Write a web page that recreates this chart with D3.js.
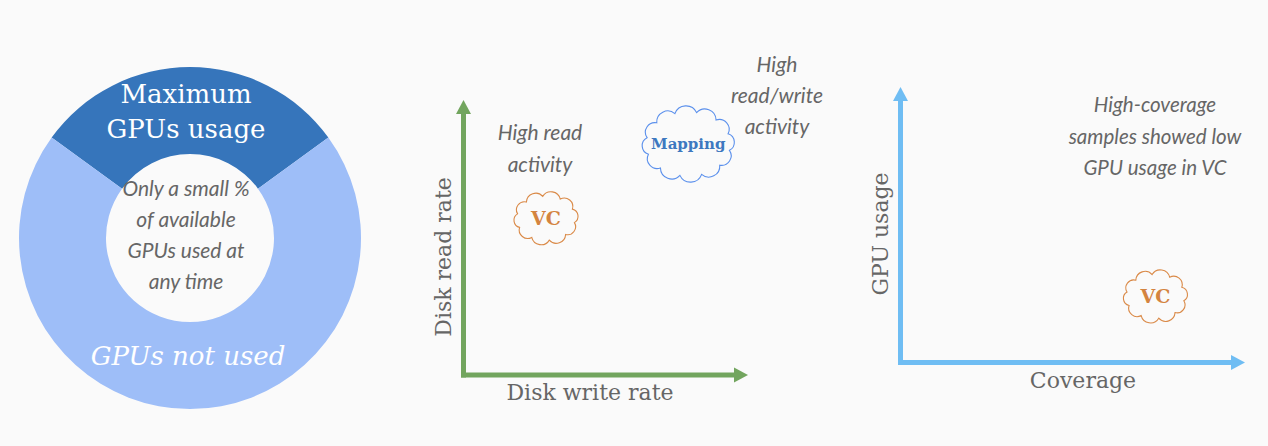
<!DOCTYPE html>
<html>
<head>
<meta charset="utf-8">
<script src="https://cdn.jsdelivr.net/npm/d3@7"></script>
<style>
  html, body { margin: 0; padding: 0; background: #fafafa; }
  svg { display: block; }
  .serif { font-family: "DejaVu Serif", "Liberation Serif", serif; }
  .hand { font-family: Lato, "Open Sans", sans-serif; font-style: italic; fill: #666; }
</style>
</head>
<body>
<svg id="chart" width="1268" height="446"></svg>
<script>
// ---- Data ----
const donutLabels = ["Maximum GPUs usage", "GPUs not used"];
const donutValues = [30, 70];
const donutNote = ["Only a small %", "of available", "GPUs used at", "any time"];

const diskCategories = ["VC", "Mapping"];
const diskWriteRate = [2.9, 7.9];
const diskReadRate = [5.7, 8.4];
const diskNoteRead = ["High read", "activity"];
const diskNoteBoth = ["High", "read/write", "activity"];

const gpuCategories = ["VC"];
const coverageValues = [7.4];
const gpuUsageValues = [2.4];
const gpuNote = ["High-coverage", "samples showed low", "GPU usage in VC"];

// ---- Setup ----
const svg = d3.select("#chart");

// ---- Donut ----
const donutColors = d3.scaleOrdinal().domain(donutLabels).range(["#3675bb", "#9ebef8"]);
const pie = d3.pie().sort(null).startAngle(-Math.PI * 0.3).endAngle(Math.PI * 1.7);
const arc = d3.arc().innerRadius(84).outerRadius(171);
const donut = svg.append("g").attr("transform", "translate(190,238)");
donut.selectAll("path").data(pie(donutValues))
  .join("path")
  .attr("d", arc)
  .attr("fill", (d, i) => donutColors(donutLabels[i]));

// slice labels
const maxLines = ["Maximum", "GPUs usage"];
svg.append("text").attr("class", "serif")
  .attr("text-anchor", "middle")
  .attr("fill", "#fff").attr("font-size", 26)
  .selectAll("tspan").data(maxLines).join("tspan")
  .attr("x", 186).attr("y", (d, i) => 103 + i * 35).text(d => d);

svg.append("text").attr("class", "serif")
  .attr("x", 188).attr("y", 365).attr("text-anchor", "middle")
  .attr("fill", "#fff").attr("font-size", 26).attr("font-style", "italic")
  .text(donutLabels[1]);

svg.append("text").attr("class", "hand")
  .attr("text-anchor", "middle").attr("font-size", 21)
  .selectAll("tspan").data(donutNote).join("tspan")
  .attr("x", 186).attr("y", (d, i) => 196 + i * 31).text(d => d);

// ---- Helpers ----
function cloudPath(cx, cy, rx, ry, n) {
  const pts = d3.range(n).map(i => {
    const a = (i / n) * 2 * Math.PI + 0.2;
    return [cx + rx * Math.cos(a), cy + ry * Math.sin(a)];
  });
  let d = `M${pts[0][0]},${pts[0][1]}`;
  for (let i = 0; i < n; i++) {
    const p = pts[(i + 1) % n];
    const q = pts[i];
    const chord = Math.hypot(p[0] - q[0], p[1] - q[1]);
    const r = chord / 2 * 1.08;
    d += ` A${r},${r} 0 0 1 ${p[0]},${p[1]}`;
  }
  return d + "Z";
}

function drawArrowAxes(g, x, y, color) {
  const x0 = x.range()[0], x1 = x.range()[1];
  const y0 = y.range()[0], y1 = y.range()[1];
  const head = 14, hw = 7.5, sw = 5;
  g.append("line").attr("x1", x0).attr("x2", x0)
    .attr("y1", y0 + sw / 2).attr("y2", y1 + head - 1)
    .attr("stroke", color).attr("stroke-width", sw);
  g.append("path")
    .attr("d", `M${x0},${y1} L${x0 + hw},${y1 + head} L${x0 - hw},${y1 + head} Z`)
    .attr("fill", color);
  g.append("line").attr("x1", x0 - sw / 2).attr("x2", x1 - head + 1)
    .attr("y1", y0).attr("y2", y0)
    .attr("stroke", color).attr("stroke-width", sw);
  g.append("path")
    .attr("d", `M${x1},${y0} L${x1 - head},${y0 - hw} L${x1 - head},${y0 + hw} Z`)
    .attr("fill", color);
}

function drawNote(lines, cx, y0, step, size) {
  svg.append("text").attr("class", "hand")
    .attr("text-anchor", "middle").attr("font-size", size)
    .selectAll("tspan").data(lines).join("tspan")
    .attr("x", cx).attr("y", (d, i) => y0 + i * step).text(d => d);
}

const cloudStyle = {
  VC: { rx: 29, ry: 22, n: 10, stroke: "#da8a48", text: "#d4843f", size: 19, bold: true },
  Mapping: { rx: 42, ry: 32, n: 12, stroke: "#5b90ec", text: "#3d78c0", size: 15, bold: true }
};

function drawCloud(g, name, cx, cy) {
  const s = cloudStyle[name];
  g.append("path").attr("d", cloudPath(cx, cy, s.rx, s.ry, s.n))
    .attr("fill", "none").attr("stroke", s.stroke).attr("stroke-width", 1.1);
  g.append("text").attr("class", "serif")
    .attr("x", cx).attr("y", cy).attr("dy", "0.35em")
    .attr("text-anchor", "middle").attr("fill", s.text)
    .attr("font-size", s.size).attr("font-weight", s.bold ? "bold" : "normal")
    .text(name);
}

// ---- Disk chart ----
const xDisk = d3.scaleLinear().domain([0, 10]).range([463.5, 748]);
const yDisk = d3.scaleLinear().domain([0, 10]).range([375, 100]);
const gDisk = svg.append("g");
drawArrowAxes(gDisk, xDisk, yDisk, "#72a55e");
diskCategories.forEach((c, i) => drawCloud(gDisk, c, xDisk(diskWriteRate[i]), yDisk(diskReadRate[i])));

svg.append("text").attr("class", "serif")
  .attr("x", 590).attr("y", 400).attr("text-anchor", "middle")
  .attr("fill", "#666").attr("font-size", 22).text("Disk write rate");
svg.append("text").attr("class", "serif")
  .attr("transform", "translate(443,257) rotate(-90)")
  .attr("dy", "0.35em").attr("text-anchor", "middle")
  .attr("fill", "#666").attr("font-size", 22).text("Disk read rate");

drawNote(diskNoteRead, 540, 140, 32, 21);
drawNote(diskNoteBoth, 777, 72, 31, 21);

// ---- GPU chart ----
const xCov = d3.scaleLinear().domain([0, 10]).range([900.5, 1245]);
const yGpu = d3.scaleLinear().domain([0, 10]).range([362.5, 87]);
const gGpu = svg.append("g");
drawArrowAxes(gGpu, xCov, yGpu, "#6fbdf3");
gpuCategories.forEach((c, i) => drawCloud(gGpu, c, xCov(coverageValues[i]), yGpu(gpuUsageValues[i])));

svg.append("text").attr("class", "serif")
  .attr("x", 1083).attr("y", 388).attr("text-anchor", "middle")
  .attr("fill", "#666").attr("font-size", 22).text("Coverage");
svg.append("text").attr("class", "serif")
  .attr("transform", "translate(880,234) rotate(-90)")
  .attr("dy", "0.35em").attr("text-anchor", "middle")
  .attr("fill", "#666").attr("font-size", 22).text("GPU usage");

drawNote(gpuNote, 1155, 112, 31.5, 20.5);
</script>
</body>
</html>
